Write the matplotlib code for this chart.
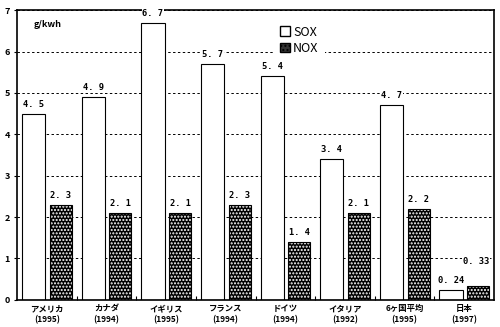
import numpy as np
import matplotlib.pyplot as plt
from matplotlib.patches import Patch

plt.rcParams['font.family'] = ['Noto Sans CJK JP', 'DejaVu Sans']

# emission per kWh by country (survey year in brackets)
countries = ['アメリカ\n(1995)', 'カナダ\n(1994)', 'イギリス\n(1995)', 'フランス\n(1994)',
             'ドイツ\n(1994)', 'イタリア\n(1992)', '6ヶ国平均\n(1995)', '日本\n(1997)']
sox = [4.5, 4.9, 6.7, 5.7, 5.4, 3.4, 4.7, 0.24]
nox = [2.3, 2.1, 2.1, 2.3, 1.4, 2.1, 2.2, 0.33]
sox_txt = ['4. 5', '4. 9', '6. 7', '5. 7', '5. 4', '3. 4', '4. 7', '0. 24']
nox_txt = ['2. 3', '2. 1', '2. 1', '2. 3', '1. 4', '2. 1', '2. 2', '0. 33']

fig = plt.figure(figsize=(5, 3.27), dpi=100)
ax = fig.add_axes([0.034, 0.083, 0.954, 0.886])

x = np.arange(len(countries))
w_s, w_n = 0.39, 0.37
xs = x + 0.28
xn = x + 0.735

ax.set_axisbelow(True)
ax.yaxis.grid(True, color='black', linestyle=(0, (2.5, 2.5)), linewidth=0.7)

ax.bar(xs, sox, w_s, color='white', edgecolor='black', linewidth=0.8, zorder=2)
# dotted fill for NOX: black face, white dot hatch, then a black outline
ax.bar(xn, nox, w_n, color='black', edgecolor='white', hatch='.....', linewidth=0, zorder=2)
ax.bar(xn, nox, w_n, color='none', edgecolor='black', linewidth=0.8, zorder=3)

lab = dict(va='bottom', fontsize=6.3, family='DejaVu Sans Mono',
           fontweight='bold', clip_on=False, zorder=5,
           bbox=dict(facecolor='white', edgecolor='none', pad=0.6))
for i in range(len(countries)):
    ax.text(xs[i], sox[i] + 0.12, sox_txt[i], ha='center', **lab)
    if i == len(countries) - 1:
        ax.text(xn[i] + w_n / 2, nox[i] + 0.5, nox_txt[i], ha='right', **lab)
    else:
        ax.text(xn[i], nox[i] + 0.12, nox_txt[i], ha='center', **lab)

ax.set_xlim(0, 8)
ax.set_ylim(0, 7)
ax.set_yticks(range(0, 8))
ax.set_yticklabels([str(v) for v in range(0, 8)], fontsize=6.5, fontweight='bold')
ax.tick_params(axis='y', length=2, width=0.8, pad=3)

ax.set_xticks(x + 0.5)
ax.set_xticklabels(countries, fontsize=6, fontweight='bold', linespacing=1.25)
ax.tick_params(axis='x', length=0, pad=3)
ax.set_xticks(x[1:], minor=True)
ax.tick_params(axis='x', which='minor', direction='in', length=3, width=0.8)

for s in ax.spines.values():
    s.set_linewidth(1.2)

ax.text(0.035, 0.95, 'g/kwh', transform=ax.transAxes, fontsize=6.5,
        fontweight='bold', va='center', ha='left')

handles = [Patch(facecolor='white', edgecolor='black', label='SOX'),
           Patch(facecolor='#333333', edgecolor='black', hatch='....', label='NOX')]
leg = ax.legend(handles=handles, loc='upper left', bbox_to_anchor=(0.525, 0.99),
                fontsize=9, frameon=True, facecolor='white', edgecolor='none',
                framealpha=1, handlelength=0.8, handleheight=0.8, handletextpad=0.25,
                labelspacing=0.25, borderpad=0.5, fancybox=False)
leg.set_zorder(6)

fig.savefig('out.png', dpi=100)
